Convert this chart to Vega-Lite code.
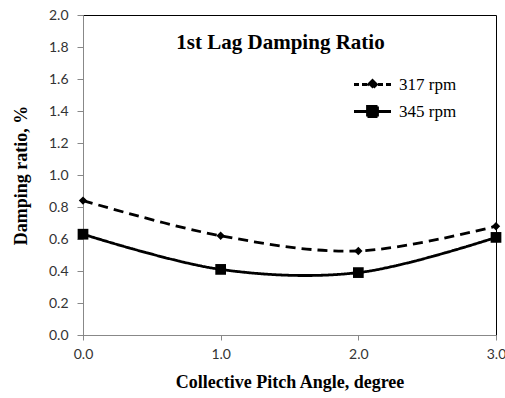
{
  "$schema": "https://vega.github.io/schema/vega-lite/v6.json",
  "width": 413,
  "height": 320,
  "autosize": {"type": "none"},
  "padding": {"left": 83, "top": 15, "right": 9, "bottom": 63},
  "background": "white",
  "config": {
    "view": {"stroke": "black", "strokeWidth": 1},
    "font": "Liberation Serif"
  },
  "title": {
    "text": "1st Lag Damping Ratio",
    "font": "Liberation Serif",
    "fontSize": 21,
    "fontWeight": "bold",
    "color": "black",
    "anchor": "middle",
    "offset": -45,
    "dx": -9
  },
  "data": {
    "values": [
      {"pitch": 0, "ratio": 0.84, "series": "317 rpm"},
      {"pitch": 1, "ratio": 0.62, "series": "317 rpm"},
      {"pitch": 2, "ratio": 0.525, "series": "317 rpm"},
      {"pitch": 3, "ratio": 0.68, "series": "317 rpm"},
      {"pitch": 0, "ratio": 0.63, "series": "345 rpm"},
      {"pitch": 1, "ratio": 0.41, "series": "345 rpm"},
      {"pitch": 2, "ratio": 0.39, "series": "345 rpm"},
      {"pitch": 3, "ratio": 0.61, "series": "345 rpm"}
    ]
  },
  "encoding": {
    "x": {
      "field": "pitch", "type": "quantitative",
      "scale": {"domain": [0, 3], "nice": false},
      "axis": {
        "values": [0, 1, 2, 3], "format": ".1f", "grid": false,
        "title": "Collective Pitch Angle, degree",
        "titleFont": "Liberation Serif", "titleFontSize": 18, "titleFontWeight": "bold", "titleColor": "black",
        "titlePadding": 12,
        "labelFont": "Lato", "labelFontSize": 14, "labelColor": "#333",
        "labelPadding": 7, "tickSize": 5, "tickColor": "#888", "domainColor": "#888",
        "labelFlush": false
      }
    },
    "y": {
      "field": "ratio", "type": "quantitative",
      "scale": {"domain": [0, 2], "nice": false},
      "axis": {
        "values": [0, 0.2, 0.4, 0.6, 0.8, 1.0, 1.2, 1.4, 1.6, 1.8, 2.0], "format": ".1f", "grid": false,
        "title": "Damping ratio, %",
        "titleFont": "Liberation Serif", "titleFontSize": 18, "titleFontWeight": "bold", "titleColor": "black",
        "titlePadding": 18,
        "labelFont": "Lato", "labelFontSize": 14, "labelColor": "#333",
        "labelPadding": 9, "tickSize": 6, "tickColor": "#888", "domainColor": "#888",
        "labelFlush": false
      }
    }
  },
  "layer": [
    {
      "mark": {"type": "line", "interpolate": "catmull-rom", "color": "black", "strokeWidth": 2.8},
      "encoding": {
        "strokeDash": {
          "field": "series", "type": "nominal",
          "scale": {"domain": ["317 rpm", "345 rpm"], "range": [[10, 6], [1, 0]]},
          "legend": {
            "title": null,
            "orient": "none",
            "legendX": 278,
            "legendY": 58,
            "labelFont": "Liberation Serif",
            "labelFontSize": 17,
            "labelColor": "black",
            "labelOffset": 15,
            "rowPadding": 5,
            "symbolSize": 400,
            "symbolStrokeWidth": 2.8,
            "symbolStrokeColor": "black",
            "symbolFillColor": "black",
            "symbolOpacity": 1,
            "encode": {
              "symbols": {
                "update": {
                  "shape": {"signal": "datum.value == '317 rpm' ? 'M-1.85,0L-1.35,0M-1.05,0L-0.55,0M0.55,0L1.05,0M1.35,0L1.85,0M0,-0.4L0.4,0L0,0.4L-0.4,0Z' : 'M-1.85,0L1.85,0M-0.5,-0.5L0.5,-0.5L0.5,0.5L-0.5,0.5Z'"},
                  "fill": {"value": "black"},
                  "stroke": {"value": "black"},
                  "strokeDash": {"value": [1, 0]}
                }
              }
            }
          }
        }
      }
    },
    {
      "transform": [{"filter": "datum.series == '317 rpm'"}],
      "mark": {"type": "point", "filled": true, "color": "black", "opacity": 1, "shape": "diamond", "size": 70}
    },
    {
      "transform": [{"filter": "datum.series == '345 rpm'"}],
      "mark": {"type": "point", "filled": true, "color": "black", "opacity": 1, "shape": "square", "size": 115}
    }
  ]
}
